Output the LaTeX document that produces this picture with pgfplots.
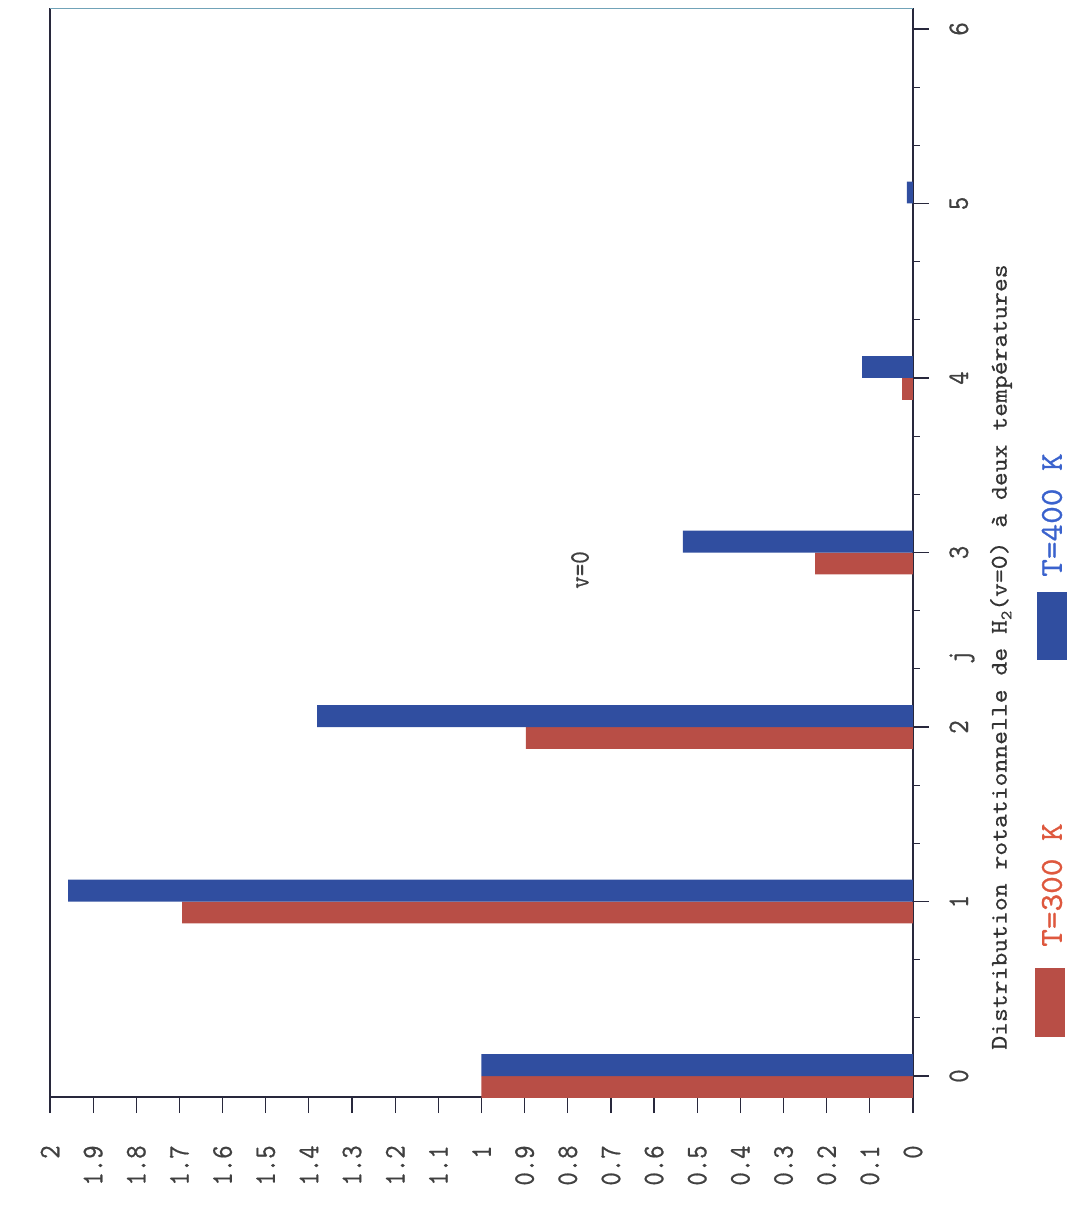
\documentclass[border=0pt]{standalone}
\usepackage{fontspec}
\setmainfont{lmmono10-regular.otf}
\newfontfamily\tickfont[FakeStretch=0.85,FakeBold=0.6]{lmmono10-regular.otf}
\newfontfamily\capfont[FakeStretch=1.1,FakeBold=0.4]{lmmono10-regular.otf}
\newfontfamily\legfont[FakeStretch=1.05,FakeBold=0.8]{lmmono10-regular.otf}
\usepackage{pgfplots}
\pgfplotsset{compat=1.18}
\definecolor{redbar}{RGB}{184,78,70}
\definecolor{bluebar}{RGB}{48,78,160}
\definecolor{redtxt}{RGB}{222,88,62}
\definecolor{bluetxt}{RGB}{58,98,205}
\definecolor{axcol}{RGB}{40,40,60}
\begin{document}
\begin{tikzpicture}[x=1pt,y=1pt]
\useasboundingbox (0,0) rectangle (540,606);
\begin{axis}[
  at={(25pt,57.5pt)}, anchor=south west,
  scale only axis, width=431.5pt, height=544.5pt,
  x dir=reverse,
  xmin=0, xmax=2, ymin=-0.12, ymax=6.12,
  axis line style={draw=none},
  tick align=outside,
  xtick pos=left, ytick pos=right,
  xtick={0,0.1,0.2,0.3,0.4,0.5,0.6,0.7,0.8,0.9,1,1.1,1.2,1.3,1.4,1.5,1.6,1.7,1.8,1.9,2},
  xticklabels={0,0.1,0.2,0.3,0.4,0.5,0.6,0.7,0.8,0.9,1,1.1,1.2,1.3,1.4,1.5,1.6,1.7,1.8,1.9,2},
  ytick={0,1,2,3,4,5,6},
  yticklabels={0,1,2,3,4,5,6},
  minor y tick num=2,
  major tick length=8pt,
  minor tick length=3.5pt,
  every tick/.style={axcol, line width=0.6pt},
  /pgf/number format/assume math mode=true,
  xticklabel style={font=\tickfont\fontsize{15}{15}\selectfont, rotate=90, anchor=east, inner sep=0pt, text=black!75},
  yticklabel style={font=\tickfont\fontsize{15}{15}\selectfont, rotate=90, anchor=north, inner sep=0pt, text=black!75},
  xticklabel shift=16pt,
  yticklabel shift=10pt,
  clip=false,
]
\draw[axcol, line width=0.6pt] (rel axis cs:0,0) -- (rel axis cs:1,0);
\draw[axcol, line width=0.6pt] (rel axis cs:0,0) -- (rel axis cs:0,1);
\draw[axcol, line width=0.6pt] (rel axis cs:1,0) -- (rel axis cs:1,1);
\draw[cyan!40!gray, line width=0.5pt] (rel axis cs:0,1) -- (rel axis cs:1,1);
\addplot[xbar, bar width=0.125, bar shift=-0.0625, fill=redbar, draw=none]
  coordinates {(1.0,0) (1.694,1) (0.897,2) (0.227,3) (0.025,4)};
\addplot[xbar, bar width=0.125, bar shift=0.0625, fill=bluebar, draw=none]
  coordinates {(1.0,0) (1.958,1) (1.381,2) (0.533,3) (0.118,4) (0.014,5)};
\end{axis}
\node[rotate=90, font=\tickfont\fontsize{14}{14}\selectfont, text=black!75] at (290,321) {v=0};
\node[rotate=90, font=\tickfont\fontsize{15}{15}\selectfont, text=black!75] at (481,277.5) {j};
\node[rotate=90, font=\capfont\fontsize{12}{12}\selectfont, text=black!80] at (500.5,277.5)
  {Distribution rotationnelle de H\raisebox{-0.45ex}{\fontsize{8}{8}\selectfont 2}(v=0) à deux températures};
\fill[redbar] (517.5,87.5) rectangle (532.5,122);
\fill[bluebar] (518.5,276) rectangle (533.5,310);
\node[rotate=90, font=\legfont\fontsize{16}{16}\selectfont, text=redtxt] at (526,163.5) {T=300 K};
\node[rotate=90, font=\legfont\fontsize{16}{16}\selectfont, text=bluetxt] at (526,348.5) {T=400 K};
\end{tikzpicture}
\end{document}
